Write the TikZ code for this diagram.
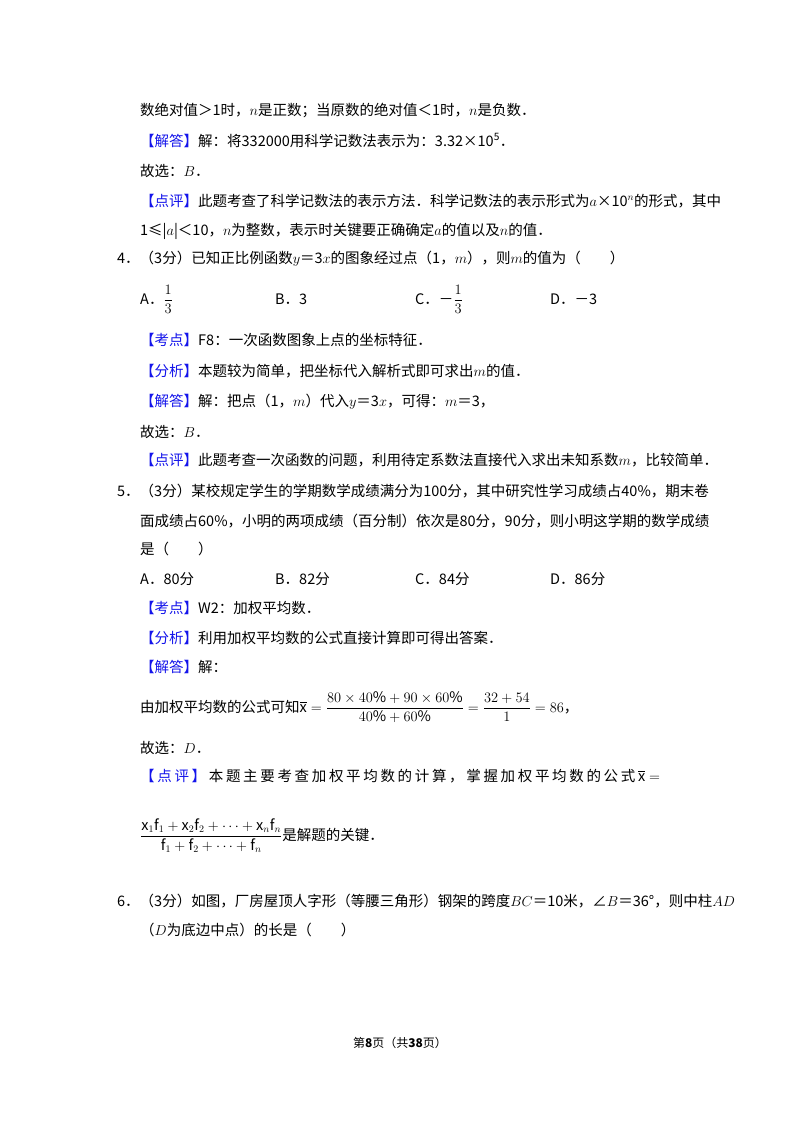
\documentclass[tikz,border=0pt]{standalone}
\usepackage{fontspec}
\setmainfont{Noto Sans CJK SC}
\usepackage{amsmath}
\definecolor{kb}{RGB}{20,20,235}
\newcommand{\kw}[1]{{\color{kb}【#1】}}
\newcommand{\iv}[1]{$#1$}
\newcommand{\gp}{\hfil}
\begin{document}
\begin{tikzpicture}[x=1pt,y=1pt,
  t/.style={anchor=base west,inner sep=0pt,font=\fontsize{14.5}{17}\selectfont}]
\useasboundingbox (0,0) rectangle (800,-1132);
\fill[white] (0,0) rectangle (800,-1132);
\node[t] (l1) at (140,-115) {数绝对值＞1时，\iv{n}是正数；当原数的绝对值＜1时，\iv{n}是负数．};
\node[t] (l2) at (140,-146) {\kw{解答}解：将332000用科学记数法表示为：3.32×10\textsuperscript{5}．};
\node[t] (l3) at (140,-176) {故选：\iv{B}．};
\node[t] (l4) at (140,-206) {\kw{点评}此题考查了科学记数法的表示方法．科学记数法的表示形式为\iv{a}×10\textsuperscript{\iv{n}}的形式，其中};
\node[t] (l5) at (140,-235) {1≤|\iv{a}|＜10，\iv{n}为整数，表示时关键要正确确定\iv{a}的值以及\iv{n}的值．};
\node[t] (q4) at (117,-263) {4．（3分）已知正比例函数\iv{y}＝3\iv{x}的图象经过点（1，\iv{m}），则\iv{m}的值为（\quad\quad）};
\node[t] (o4a) at (140,-304) {A．$\dfrac{1}{3}$};
\node[t] (o4b) at (275,-304) {B．3};
\node[t] (o4c) at (415,-304) {C．－$\dfrac{1}{3}$};
\node[t] (o4d) at (550,-304) {D．－3};
\node[t] (k4) at (140,-345) {\kw{考点}F8：一次函数图象上点的坐标特征．};
\node[t] (f4) at (140,-376) {\kw{分析}本题较为简单，把坐标代入解析式即可求出\iv{m}的值．};
\node[t] (j4) at (140,-406) {\kw{解答}解：把点（1，\iv{m}）代入\iv{y}＝3\iv{x}，可得：\iv{m}＝3，};
\node[t] (g4) at (140,-437) {故选：\iv{B}．};
\node[t] (p4) at (140,-465) {\kw{点评}此题考查一次函数的问题，利用待定系数法直接代入求出未知系数\iv{m}，比较简单．};
\node[t] (q5) at (117,-496) {5．（3分）某校规定学生的学期数学成绩满分为100分，其中研究性学习成绩占40\%，期末卷};
\node[t] (q5b) at (140,-526) {面成绩占60\%，小明的两项成绩（百分制）依次是80分，90分，则小明这学期的数学成绩};
\node[t] (q5c) at (140,-554) {是（\quad\quad）};
\node[t] (o5a) at (140,-584) {A．80分};
\node[t] (o5b) at (275,-584) {B．82分};
\node[t] (o5c) at (415,-584) {C．84分};
\node[t] (o5d) at (550,-584) {D．86分};
\node[t] (k5) at (140,-613) {\kw{考点}W2：加权平均数．};
\node[t] (f5) at (140,-643) {\kw{分析}利用加权平均数的公式直接计算即可得出答案．};
\node[t] (j5) at (140,-672) {\kw{解答}解：};
\node[t] (e5) at (140,-712) {由加权平均数的公式可知$\overline{\mathrm{x}}=\dfrac{80\times40\%+90\times60\%}{40\%+60\%}=\dfrac{32+54}{1}=86$，};
\node[t] (g5) at (140,-753) {故选：\iv{D}．};
\node[t] (p5) at (140,-781) {\makebox[520pt][s]{{\color{kb}【\gp 点\gp 评\gp 】}\gp 本\gp 题\gp 主\gp 要\gp 考\gp 查\gp 加\gp 权\gp 平\gp 均\gp 数\gp 的\gp 计\gp 算\gp ，\gp 掌\gp 握\gp 加\gp 权\gp 平\gp 均\gp 数\gp 的\gp 公\gp 式\gp $\overline{\mathrm{x}}=$}};
\node[t] (p5b) at (140,-840) {$\dfrac{\mathrm{x}_1\mathrm{f}_1+\mathrm{x}_2\mathrm{f}_2+\cdots+\mathrm{x}_n\mathrm{f}_n}{\mathrm{f}_1+\mathrm{f}_2+\cdots+\mathrm{f}_n}$是解题的关键．};
\node[t] (q6) at (117,-906) {6．（3分）如图，厂房屋顶人字形（等腰三角形）钢架的跨度\iv{BC}＝10米，∠\iv{B}＝36°，则中柱\iv{AD}};
\node[t] (q6b) at (140,-935) {（\iv{D}为底边中点）的长是（\quad\quad）};
\node[anchor=base,inner sep=0pt,font=\fontsize{12}{14}\selectfont] (ft) at (400,-1047) {第\textbf{8}页（共\textbf{38}页）};
\end{tikzpicture}
\end{document}
